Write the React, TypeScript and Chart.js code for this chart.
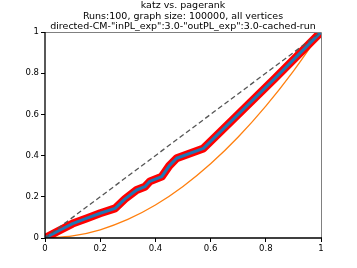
import React, { useEffect, useRef } from "react";
import { Chart, registerables } from "chart.js";
Chart.register(...registerables);

const titleLines = [
  "katz vs. pagerank",
  "Runs:100, graph size: 100000, all vertices",
  "directed-CM-\"inPL_exp\":3.0-\"outPL_exp\":3.0-cached-run",
];
const tickValues = [0, 0.2, 0.4, 0.6, 0.8, 1];
const runX = [0, 0.05, 0.1, 0.15, 0.2, 0.254, 0.29, 0.332, 0.362, 0.38, 0.423, 0.45, 0.477, 0.574, 0.7, 0.833, 1];
const runY = [0, 0.035, 0.07, 0.095, 0.12, 0.144, 0.19, 0.233, 0.249, 0.275, 0.298, 0.35, 0.387, 0.435, 0.6, 0.775, 1];
const meanY = [0, 0.035, 0.07, 0.095, 0.12, 0.144, 0.19, 0.233, 0.249, 0.275, 0.298, 0.35, 0.387, 0.435, 0.6, 0.775, 1];
const orangeX = [0, 0.1, 0.2, 0.3, 0.4, 0.5, 0.6, 0.7, 0.8, 0.9, 1];
const orangeY = [0, 0.01, 0.04, 0.09, 0.16, 0.25, 0.36, 0.49, 0.64, 0.81, 1];
const diagX = [0, 1];
const diagY = [0, 1];

const FONT = "DejaVu Sans";

export default function App() {
  const ref = useRef<HTMLCanvasElement>(null);
  useEffect(() => {
    const canvas = ref.current!;
    const framePlugin = {
      id: "frame",
      afterDraw(chart: any) {
        const { ctx, chartArea: a } = chart;
        ctx.save();
        ctx.lineWidth = 1;
        ctx.strokeStyle = "#808080";
        ctx.beginPath();
        ctx.moveTo(a.left, a.top + 0.5);
        ctx.lineTo(a.right + 0.5, a.top + 0.5);
        ctx.lineTo(a.right + 0.5, a.bottom);
        ctx.stroke();
        ctx.strokeStyle = "#000";
        ctx.lineWidth = 1.3;
        ctx.beginPath();
        ctx.moveTo(a.left, a.top);
        ctx.lineTo(a.left, a.bottom);
        ctx.lineTo(a.right + 1, a.bottom);
        ctx.stroke();
        ctx.fillStyle = "#000";
        ctx.font = `9.5px "${FONT}"`;
        ctx.textAlign = "center";
        ctx.textBaseline = "alphabetic";
        const cx = (a.left + a.right) / 2;
        titleLines.forEach((t, i) => {
          ctx.fillText(t, cx, 8 + i * 10.5);
        });
        ctx.restore();
      },
    };
    const toPts = (xs: number[], ys: number[]) => xs.map((x, i) => ({ x, y: ys[i] }));
    const chart = new Chart(canvas, {
      type: "line",
      data: {
        datasets: [
          {
            data: toPts(diagX, diagY),
            borderColor: "#555555",
            borderWidth: 1.3,
            borderDash: [5, 3],
            pointRadius: 0,
            order: 0,
          },
          {
            data: toPts(orangeX, orangeY),
            borderColor: "#ff7f0e",
            borderWidth: 1.3,
            pointRadius: 0,
            cubicInterpolationMode: "monotone",
            order: 3,
          },
          {
            data: toPts(runX, runY),
            borderColor: "#ff0000",
            borderWidth: 8,
            pointRadius: 0,
            borderJoinStyle: "round",
            order: 2,
          },
          {
            data: toPts(runX, meanY),
            borderColor: "#1f77b4",
            borderWidth: 3,
            pointRadius: 0,
            borderJoinStyle: "round",
            order: 1,
          },
        ],
      },
      options: {
        animation: false,
        responsive: false,
        layout: { padding: { left: 0, right: 36, top: 32, bottom: 0 } },
        plugins: { legend: { display: false }, tooltip: { enabled: false } },
        scales: {
          x: {
            type: "linear",
            min: 0,
            max: 1,
            afterBuildTicks: (s: any) => {
              s.ticks = tickValues.map((v) => ({ value: v }));
            },
            afterFit: (s: any) => {
              s.height = 30;
            },
            grid: { display: true, drawOnChartArea: false, drawTicks: true, tickLength: 4, color: "#000", tickWidth: 1 },
            border: { display: false },
            ticks: {
              color: "#000",
              font: { family: FONT, size: 8.5 },
              padding: 2,
              maxRotation: 0,
              autoSkip: false,
              callback: (v: any) => String(v),
            },
          },
          y: {
            type: "linear",
            min: 0,
            max: 1,
            afterBuildTicks: (s: any) => {
              s.ticks = tickValues.map((v) => ({ value: v }));
            },
            afterFit: (s: any) => {
              s.width = 45;
            },
            grid: { display: true, drawOnChartArea: false, drawTicks: true, tickLength: 4, color: "#000", tickWidth: 1 },
            border: { display: false },
            ticks: {
              color: "#000",
              font: { family: FONT, size: 8.5 },
              padding: 2,
              autoSkip: false,
              callback: (v: any) => String(v),
            },
          },
        },
      },
      plugins: [framePlugin],
    });
    return () => chart.destroy();
  }, []);
  return (
    <div style={{ position: "fixed", left: 0, top: 0, width: 357, height: 268, background: "#fff" }}>
      <canvas ref={ref} width={357} height={268} style={{ width: 357, height: 268 }} />
    </div>
  );
}
